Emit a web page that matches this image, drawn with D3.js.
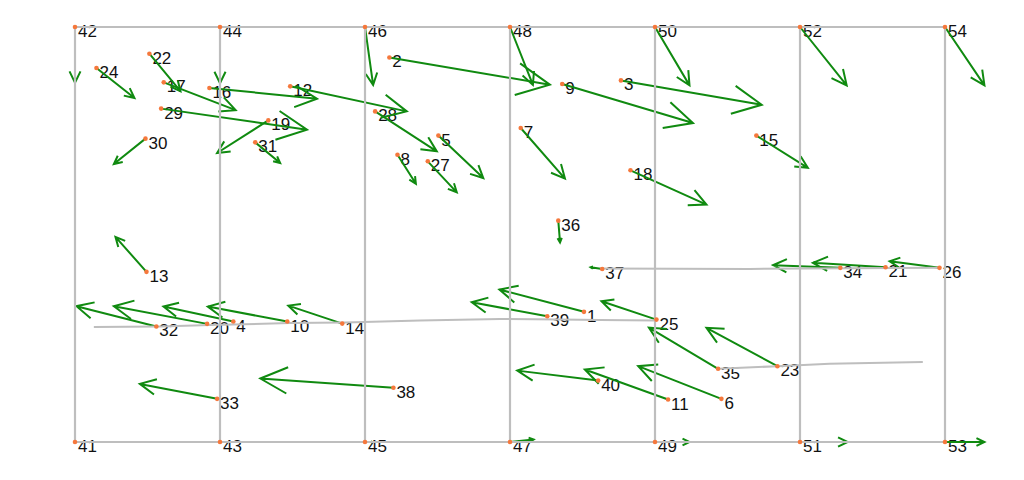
<!DOCTYPE html>
<html>
<head>
<meta charset="utf-8">
<script src="https://cdn.jsdelivr.net/npm/d3@7"></script>
<style>
  html, body { margin: 0; padding: 0; background: #ffffff; }
  svg { display: block; }
  text { font-family: "Liberation Sans", Arial, sans-serif; }
</style>
</head>
<body>
<svg id="chart" width="1024" height="480"></svg>
<script>
// ---- Data (node positions and displacement vectors, in model units) ----
const nodeIds = [
  1,2,3,4,5,6,7,8,9,10,
  11,12,13,14,15,16,17,18,19,20,
  21,22,23,24,25,26,27,28,29,30,
  31,32,33,34,35,36,37,38,39,40,
  41,42,43,44,45,46,47,48,49,50,
  51,52,53,54
];
const nodeX = [
  3.510,2.168,3.765,1.092,2.506,4.458,3.074,2.224,3.360,1.464,
  4.090,1.484,0.493,1.843,4.699,0.927,0.612,3.831,1.333,0.911,
  5.590,0.513,4.844,0.148,4.010,5.962,2.433,2.070,0.594,0.486,
  1.243,0.561,0.980,5.278,4.435,3.333,3.636,2.196,3.257,3.608,
  0,0,1,1,2,2,3,3,4,4,
  5,5,6,6
];
const nodeY = [
  0.941,2.780,2.614,0.871,2.215,0.312,2.270,2.077,2.588,0.871,
  0.307,2.571,1.230,0.856,2.215,2.559,2.600,1.964,2.325,0.854,
  1.263,2.807,0.548,2.704,0.885,1.259,2.029,2.390,2.410,2.193,
  2.166,0.835,0.312,1.259,0.529,1.600,1.251,0.392,0.909,0.444,
  0,3,0,3,0,3,0,3,0,3,
  0,3,0,3
];
const vecU = [
  -0.583,1.107,0.971,-0.482,0.310,-0.574,0.305,0.127,0.902,-0.548,
  -0.574,0.804,-0.214,-0.372,0.355,0.742,0.496,0.524,-0.353,-0.643,
  -0.501,0.214,-0.489,0.262,-0.379,-0.344,0.200,0.425,1.006,-0.218,
  0.172,-0.551,-0.533,-0.464,-0.477,0.012,-0.080,-0.918,-0.521,-0.558,
  0,0,0,0,0.05,0.056,0.163,0.158,0.238,0.238,
  0.329,0.322,0.272,0.272
];
const vecV = [
  0.161,-0.197,-0.176,0.108,-0.307,0.236,-0.366,-0.210,-0.282,0.108,
  0.217,-0.181,0.253,0.130,-0.233,-0.077,-0.201,-0.248,-0.236,0.127,
  0.032,-0.271,0.277,-0.217,0.132,0.048,-0.224,-0.289,-0.152,-0.183,
  -0.149,0.147,0.108,0.019,0.298,-0.157,0.012,0.067,0.101,0.072,
  0,-0.402,0,-0.406,0,-0.419,0.018,-0.419,0,-0.422,
  0,-0.422,0,-0.422
];

// Mesh frame (columns and top/bottom edges)
const gridCols = [0,1,2,3,4,5,6];
const gridRows = [0,3];

// Interface lines
const lineA = [[0.130,0.832],[0.589,0.835],[0.933,0.845],[1.484,0.860],[1.863,0.863],
               [2.380,0.878],[2.931,0.889],[3.344,0.885],[3.620,0.882],[4.006,0.878]];
const lineB = [[3.620,1.254],[4.653,1.251],[5.962,1.259]];
const lineC = [[4.435,0.529],[4.844,0.548],[5.204,0.565],[5.847,0.579]];
const interfaceLines = [lineA, lineB, lineC];

// ---- Drawing ----
const svg = d3.select("#chart");
const x = d3.scaleLinear().domain([0, 6]).range([75, 945]);
const y = d3.scaleLinear().domain([0, 3]).range([442, 27]);

const nodes = nodeIds.map((id, i) => ({ id, x: nodeX[i], y: nodeY[i], u: vecU[i], v: vecV[i] }));

const GREEN = "#108a10";
const GRAY = "#bebebe";
const ORANGE = "#f5783c";

// labels
svg.append("g").selectAll("text").data(nodes).join("text")
  .attr("x", d => x(d.x) + 3)
  .attr("y", d => y(d.y) + 10)
  .attr("font-size", 17)
  .attr("fill", "#111")
  .text(d => d.id);

// arrows
function arrowPath(d) {
  const bx = x(d.x), by = y(d.y);
  const tx = x(d.x + d.u), ty = y(d.y + d.v);
  const L = Math.hypot(tx - bx, ty - by);
  if (L < 1) return null;
  const a = Math.atan2(by - ty, bx - tx);
  const h = 0.225 * L;
  const s = 26 * Math.PI / 180;
  const p = d3.path();
  p.moveTo(bx, by); p.lineTo(tx, ty);
  p.moveTo(tx + h * Math.cos(a + s), ty + h * Math.sin(a + s));
  p.lineTo(tx, ty);
  p.lineTo(tx + h * Math.cos(a - s), ty + h * Math.sin(a - s));
  return p.toString();
}
svg.append("g").selectAll("path").data(nodes.filter(d => arrowPath(d))).join("path")
  .attr("d", arrowPath)
  .attr("fill", "none")
  .attr("stroke", GREEN)
  .attr("stroke-width", 2);

// grid frame
const gg = svg.append("g").attr("stroke", GRAY).attr("stroke-width", 2.2);
gg.selectAll("line.col").data(gridCols).join("line").attr("class", "col")
  .attr("x1", d => x(d)).attr("x2", d => x(d))
  .attr("y1", y(0)).attr("y2", y(3));
gg.selectAll("line.row").data(gridRows).join("line").attr("class", "row")
  .attr("x1", x(0)).attr("x2", x(6))
  .attr("y1", d => y(d)).attr("y2", d => y(d));

// interface lines
const line = d3.line().x(d => x(d[0])).y(d => y(d[1]));
svg.append("g").selectAll("path").data(interfaceLines).join("path")
  .attr("d", line)
  .attr("fill", "none")
  .attr("stroke", GRAY)
  .attr("stroke-width", 2);

// node points
svg.append("g").selectAll("circle").data(nodes).join("circle")
  .attr("cx", d => x(d.x))
  .attr("cy", d => y(d.y))
  .attr("r", 2.3)
  .attr("fill", ORANGE);
</script>
</body>
</html>
